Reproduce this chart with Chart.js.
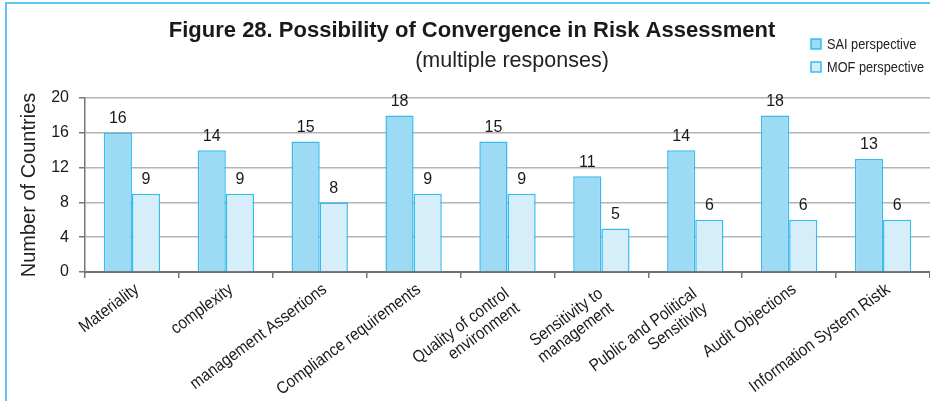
<!DOCTYPE html>
<html>
<head>
<meta charset="utf-8">
<script src="https://cdn.jsdelivr.net/npm/chart.js@4/dist/chart.umd.min.js"></script>
<style>
  html, body { margin: 0; padding: 0; background: #fff; }
  #wrap { position: relative; width: 930px; height: 401px; overflow: hidden; }
  #frame { position: absolute; left: 5px; top: 2px; right: -10px; bottom: -10px;
           border-left: 2px solid #5cc6ef; border-top: 2px solid #5cc6ef; pointer-events: none; }
  canvas { position: absolute; left: 0; top: 0; }
</style>
</head>
<body>
<div id="wrap">
  <canvas id="chart" width="930" height="401"></canvas>
  <div id="frame"></div>
</div>
<script>
// Risk assessment areas (multi-line labels where the label wraps)
const categories = [
  "Materiality",
  "complexity",
  "management Assertions",
  "Compliance requirements",
  ["Quality of control", "environment"],
  ["Sensitivity to", "management"],
  ["Public and Political", "Sensitivity"],
  "Audit Objections",
  "Information System Ristk"
];

// Number of countries per perspective
const saiValues = [16, 14, 15, 18, 15, 11, 14, 18, 13];
const mofValues = [9, 9, 8, 9, 9, 5, 6, 6, 6];

// Y axis tick values
const yTicks = [0, 4, 8, 12, 16, 20];

const seriesNames = ["SAI perspective", "MOF perspective"];
const titleText = "Figure 28. Possibility of Convergence in Risk Assessment";
const subtitleText = "(multiple responses)";

const SANS = "'Liberation Sans', Arial, sans-serif";

// Heading lines drawn above the plot
const headingPlugin = {
  id: "heading",
  afterDraw(chart) {
    const ctx = chart.ctx;
    ctx.save();
    ctx.fillStyle = "#1a1a1a";
    ctx.textAlign = "center";
    ctx.textBaseline = "middle";
    ctx.font = "bold 22px " + SANS;
    ctx.fillText(titleText, 472, 31);
    ctx.fillStyle = "#222";
    ctx.font = "21.5px " + SANS;
    ctx.fillText(subtitleText, 512, 61);
    ctx.restore();
  }
};

// Stacked legend at the upper right, set in a condensed face
const sideLegendPlugin = {
  id: "sideLegend",
  afterDraw(chart) {
    const ctx = chart.ctx;
    chart.data.datasets.forEach((ds, i) => {
      const y = 44 + i * 23;
      ctx.save();
      ctx.fillStyle = ds.backgroundColor;
      ctx.strokeStyle = ds.borderColor;
      ctx.lineWidth = 1.5;
      ctx.fillRect(811, y - 5, 10, 10);
      ctx.strokeRect(811, y - 5, 10, 10);
      ctx.translate(827, y);
      ctx.scale(0.88, 1);
      ctx.fillStyle = "#222";
      ctx.font = "14.5px " + SANS;
      ctx.textAlign = "left";
      ctx.textBaseline = "middle";
      ctx.fillText(ds.label, 0, 1);
      ctx.restore();
    });
  }
};

// Slanted, condensed category labels placed at each x tick
const slantedLabelPlugin = {
  id: "slantedLabels",
  afterDraw(chart) {
    const ctx = chart.ctx;
    const xs = chart.scales.x;
    const angle = 36.5 * Math.PI / 180;
    const lineGap = 18;
    const base = chart.chartArea.bottom;
    chart.data.labels.forEach((label, i) => {
      const lines = Array.isArray(label) ? label : [label];
      const n = lines.length;
      const cx = xs.getPixelForTick(i);
      ctx.save();
      ctx.translate(cx + 8 - (n - 1) * 7 * Math.cos(angle),
                    base + 19.5 + (n - 1) * 7 * Math.sin(angle));
      ctx.rotate(-angle);
      ctx.scale(0.9, 1);
      ctx.fillStyle = "#1a1a1a";
      ctx.font = "17px " + SANS;
      ctx.textAlign = "right";
      ctx.textBaseline = "alphabetic";
      lines.forEach((line, k) => ctx.fillText(line, 0, k * lineGap));
      ctx.restore();
    });
  }
};

// Value printed above every bar
const valueLabelPlugin = {
  id: "valueLabels",
  afterDatasetsDraw(chart) {
    const ctx = chart.ctx;
    ctx.save();
    ctx.fillStyle = "#1a1a1a";
    ctx.font = "16px " + SANS;
    ctx.textAlign = "center";
    ctx.textBaseline = "bottom";
    chart.data.datasets.forEach((ds, di) => {
      const meta = chart.getDatasetMeta(di);
      meta.data.forEach((bar, i) => {
        ctx.fillText(String(ds.data[i]), bar.x, bar.y - 6);
      });
    });
    ctx.restore();
  }
};

new Chart(document.getElementById("chart"), {
  type: "bar",
  data: {
    labels: categories,
    datasets: [
      {
        label: seriesNames[0],
        data: saiValues,
        backgroundColor: "#9ddbf5",
        borderColor: "#36bbee",
        borderWidth: 1.5,
        categoryPercentage: 0.6,
        barPercentage: 1.0
      },
      {
        label: seriesNames[1],
        data: mofValues,
        backgroundColor: "#d5eefa",
        borderColor: "#36bbee",
        borderWidth: 1.5,
        categoryPercentage: 0.6,
        barPercentage: 1.0
      }
    ]
  },
  options: {
    responsive: false,
    animation: false,
    devicePixelRatio: 1,
    layout: { padding: { top: 98, right: 0, bottom: 0, left: 0 } },
    plugins: {
      legend: { display: false },
      title: { display: false },
      tooltip: { enabled: false }
    },
    scales: {
      x: {
        afterFit(scale) { scale.height = 129; },
        grid: {
          offset: true,
          drawOnChartArea: false,
          drawTicks: true,
          tickLength: 6,
          tickColor: "#777",
          lineWidth: 1.5
        },
        border: { color: "#707070", width: 2 },
        ticks: { display: false, autoSkip: false }
      },
      y: {
        min: 0,
        max: 20,
        afterFit(scale) { scale.width = 85; },
        afterBuildTicks(scale) { scale.ticks = yTicks.map(v => ({ value: v })); },
        grid: {
          color: "#b4b4b4",
          lineWidth: 1.5,
          drawTicks: true,
          tickLength: 6,
          tickColor: "#777"
        },
        border: { color: "#777", width: 1.5 },
        ticks: {
          padding: 10,
          color: "#1a1a1a",
          font: { family: SANS, size: 16 }
        },
        title: {
          display: true,
          text: "Number of Countries",
          color: "#222",
          font: { family: SANS, size: 20 },
          padding: { top: 17, bottom: 0 }
        }
      }
    }
  },
  plugins: [headingPlugin, sideLegendPlugin, slantedLabelPlugin, valueLabelPlugin]
});
</script>
</body>
</html>
